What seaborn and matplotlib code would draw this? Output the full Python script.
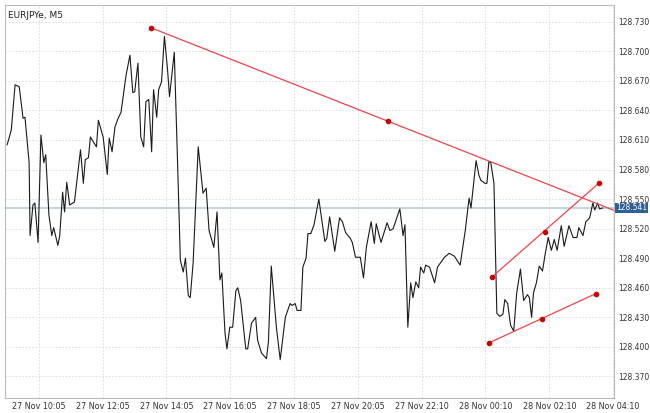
import numpy as np
import pandas as pd
import matplotlib
matplotlib.use("Agg")
import matplotlib.pyplot as plt
import seaborn as sns

# Price series (hours since 27 Nov 00:00, EURJPY close)
hours = [9.09, 9.22, 9.34, 9.47, 9.59, 9.65, 9.78, 9.81, 9.90, 9.96, 10.06, 10.15, 10.24, 10.30,
         10.40, 10.49, 10.55, 10.68, 10.74, 10.83, 10.89, 10.96, 11.05, 11.20, 11.39, 11.48, 11.54,
         11.64, 11.70, 11.89, 11.95, 12.10, 12.23, 12.29, 12.38, 12.47, 12.57, 12.66, 12.82, 12.94,
         13.03, 13.09, 13.19, 13.28, 13.37, 13.44, 13.53, 13.62, 13.68, 13.78, 13.84, 13.93, 14.02,
         14.12, 14.18, 14.33, 14.43, 14.52, 14.61, 14.68, 14.77, 14.83, 14.92, 15.08, 15.23, 15.33,
         15.42, 15.57, 15.67, 15.76, 15.82, 15.92, 15.98, 16.07, 16.16, 16.26, 16.32, 16.41, 16.57,
         16.63, 16.75, 16.88, 16.94, 17.06, 17.22, 17.28, 17.37, 17.53, 17.65, 17.81, 17.96, 18.02,
         18.12, 18.18, 18.30, 18.36, 18.46, 18.52, 18.61, 18.71, 18.86, 19.05, 19.11, 19.20, 19.36,
         19.51, 19.60, 19.70, 19.85, 19.91, 20.01, 20.16, 20.26, 20.35, 20.50, 20.60, 20.66, 20.81,
         21.00, 21.09, 21.19, 21.40, 21.50, 21.56, 21.65, 21.74, 21.81, 21.90, 21.99, 22.05, 22.15,
         22.21, 22.33, 22.49, 22.58, 22.80, 22.95, 23.11, 23.29, 23.45, 23.57, 23.63, 23.79, 23.88,
         23.94, 24.07, 24.13, 24.19, 24.25, 24.35, 24.44, 24.53, 24.63, 24.69, 24.78, 24.87, 24.97,
         25.06, 25.18, 25.28, 25.40, 25.46, 25.53, 25.59, 25.68, 25.77, 25.87, 25.96, 26.05, 26.15,
         26.24, 26.33, 26.46, 26.55, 26.70, 26.83, 26.95, 27.01, 27.14, 27.23, 27.35, 27.45, 27.51,
         27.60, 27.66, 27.76]
prices = [128.605, 128.620, 128.666, 128.664, 128.632, 128.633, 128.587, 128.513, 128.544, 128.546,
          128.506, 128.615, 128.587, 128.595, 128.534, 128.513, 128.521, 128.503, 128.513, 128.557,
          128.537, 128.567, 128.544, 128.547, 128.600, 128.566, 128.590, 128.592, 128.613, 128.603,
          128.630, 128.613, 128.575, 128.612, 128.598, 128.623, 128.632, 128.638, 128.676, 128.696,
          128.658, 128.659, 128.688, 128.613, 128.603, 128.649, 128.651, 128.598, 128.661, 128.633,
          128.661, 128.669, 128.715, 128.681, 128.654, 128.699, 128.590, 128.488, 128.476, 128.490,
          128.452, 128.450, 128.485, 128.603, 128.556, 128.561, 128.518, 128.501, 128.537, 128.468,
          128.475, 128.414, 128.398, 128.420, 128.420, 128.457, 128.460, 128.447, 128.398, 128.398,
          128.424, 128.430, 128.407, 128.394, 128.388, 128.405, 128.482, 128.420, 128.387, 128.430,
          128.444, 128.442, 128.444, 128.437, 128.437, 128.481, 128.490, 128.515, 128.515, 128.524,
          128.550, 128.507, 128.510, 128.532, 128.497, 128.531, 128.527, 128.516, 128.510, 128.506,
          128.491, 128.491, 128.470, 128.501, 128.527, 128.505, 128.525, 128.506, 128.526, 128.518,
          128.520, 128.540, 128.513, 128.524, 128.420, 128.465, 128.450, 128.466, 128.460, 128.481,
          128.475, 128.483, 128.481, 128.465, 128.481, 128.491, 128.495, 128.492, 128.483, 128.518,
          128.551, 128.541, 128.589, 128.574, 128.569, 128.566, 128.566, 128.588, 128.587, 128.566,
          128.434, 128.431, 128.433, 128.448, 128.444, 128.422, 128.416, 128.454, 128.479, 128.447,
          128.453, 128.450, 128.430, 128.455, 128.465, 128.482, 128.477, 128.495, 128.511, 128.498,
          128.509, 128.498, 128.523, 128.502, 128.523, 128.511, 128.511, 128.521, 128.513, 128.527,
          128.531, 128.546, 128.539, 128.546, 128.540, 128.541]

# Trend lines (anchor points: hours, price)
trend_down_t = [13.59, 21.03]
trend_down_p = [128.724, 128.629]
channel_up_t = [24.29, 25.96, 27.63]
channel_up_p = [128.471, 128.517, 128.566]
channel_lo_t = [24.19, 25.87, 27.54]
channel_lo_p = [128.404, 128.428, 128.454]

last_price = 128.541
tick_hours = [10.083 + 2 * i for i in range(10)]
tick_labels = ["27 Nov 10:05", "27 Nov 12:05", "27 Nov 14:05", "27 Nov 16:05", "27 Nov 18:05",
               "27 Nov 20:05", "27 Nov 22:10", "28 Nov 00:10", "28 Nov 02:10", "28 Nov 04:10"]
price_ticks = np.round(np.arange(128.370, 128.731, 0.03), 3)

XMIN, XMAX = 9.03, 28.10
YMIN, YMAX = 128.348, 128.747

sns.set_style("white")
plt.rcParams['font.family'] = ['DejaVu Sans']
fig = plt.figure(figsize=(6.5, 4.13), dpi=100)
ax = fig.add_axes([0.008, 0.036, 0.936, 0.952])

df = pd.DataFrame({"hours": hours, "price": prices})
ax.axhline(last_price, color="#b8cce0", lw=1.2, zorder=1)
sns.lineplot(data=df, x="hours", y="price", ax=ax, color="#1a1a1a", lw=0.8, zorder=3)

# downward trend line extended to right edge
slope = (trend_down_p[1] - trend_down_p[0]) / (trend_down_t[1] - trend_down_t[0])
ax.plot([trend_down_t[0], XMAX], [trend_down_p[0], trend_down_p[0] + slope * (XMAX - trend_down_t[0])],
        color="#e8454a", lw=0.9, zorder=4)
ax.scatter(trend_down_t, trend_down_p, s=9, color="#cc0000", zorder=5)
for t, p in [(channel_up_t, channel_up_p), (channel_lo_t, channel_lo_p)]:
    ax.plot([t[0], t[-1]], [p[0], p[-1]], color="#e8454a", lw=0.9, zorder=4)
    ax.scatter(t, p, s=9, color="#cc0000", zorder=5)

ax.set_xlim(XMIN, XMAX)
ax.set_ylim(YMIN, YMAX)
ax.set_xticks(tick_hours)
ax.set_xticklabels(tick_labels, fontsize=5.8, color="#333333")
ax.set_yticks(price_ticks)
ax.set_yticklabels([f"{v:.3f}" for v in price_ticks], fontsize=5.5, color="#333333")
ax.yaxis.tick_right()
ax.tick_params(axis="x", length=0, pad=3)
ax.tick_params(axis="y", length=0, pad=3)
ax.grid(True, color="#d8d8d8", ls=(0, (2, 2)), lw=0.6)
ax.set_xlabel("")
ax.set_ylabel("")
for s in ax.spines.values():
    s.set_color("#bbbbbb")
    s.set_linewidth(0.8)

ax.text(0.004, 0.985, "EURJPYe, M5", transform=ax.transAxes, fontsize=6.5, va="top", ha="left",
        color="#222222")
ax.text(1.004, last_price, f"{last_price:.3f}", transform=ax.get_yaxis_transform(), fontsize=5.5,
        va="center", ha="left", color="white",
        bbox=dict(boxstyle="square,pad=0.12", fc="#2d5f9a", ec="none"))

fig.savefig("out.png", dpi=100)
